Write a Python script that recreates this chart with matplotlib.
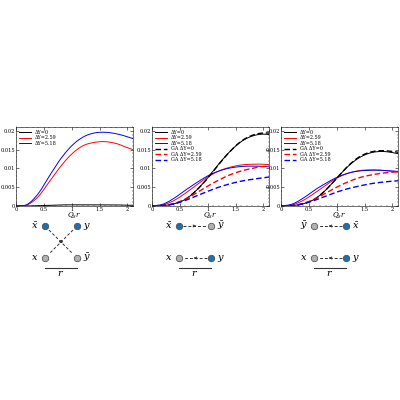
import matplotlib
matplotlib.use("Agg")
import matplotlib.pyplot as plt
import numpy as np

q = [0, 0.2, 0.4, 0.6, 0.8, 1.0, 1.2, 1.4, 1.6, 1.8, 2.0, 2.1]

# panel 1
p1_black = [0, 0, 0.0001, 0.0002, 0.0003, 0.0003, 0.0003, 0.0003, 0.0003, 0.0003, 0.0002, 0.0002]
p1_red = [0, 0.0003, 0.0025, 0.0065, 0.0105, 0.0138, 0.016, 0.0169, 0.0171, 0.0166, 0.0155, 0.015]
p1_blue = [0, 0.0004, 0.0033, 0.008, 0.0125, 0.016, 0.0183, 0.0194, 0.0196, 0.0192, 0.0184, 0.0179]

# panel 2
p2_black = [0, 0.0001, 0.0006, 0.0018, 0.0042, 0.0075, 0.0112, 0.0145, 0.0171, 0.0186, 0.0191, 0.019]
p2_red = [0, 0.0003, 0.0015, 0.0034, 0.0056, 0.0077, 0.0093, 0.0103, 0.0109, 0.0111, 0.0111, 0.011]
p2_blue = [0, 0.0005, 0.0021, 0.0042, 0.0062, 0.008, 0.0093, 0.0101, 0.0105, 0.0106, 0.0105, 0.0104]
p2_ga_black = [0, 0.0001, 0.0006, 0.0018, 0.0042, 0.0074, 0.0111, 0.0145, 0.0172, 0.0188, 0.0194, 0.0194]
p2_ga_red = [0, 0.0001, 0.0007, 0.0018, 0.0035, 0.0053, 0.0069, 0.0083, 0.0093, 0.0100, 0.0105, 0.0106]
p2_ga_blue = [0, 0.0001, 0.0006, 0.0015, 0.0027, 0.0039, 0.0050, 0.0059, 0.0066, 0.0071, 0.0075, 0.0077]

# panel 3
p3_black = [0, 0.0001, 0.0006, 0.0018, 0.0042, 0.0074, 0.0105, 0.0128, 0.0141, 0.0145, 0.0142, 0.0139]
p3_red = [0, 0.0003, 0.0015, 0.0034, 0.0055, 0.0074, 0.0087, 0.0094, 0.0096, 0.0095, 0.0092, 0.0090]
p3_blue = [0, 0.0005, 0.0021, 0.0042, 0.006, 0.0076, 0.0087, 0.0093, 0.0095, 0.0095, 0.0093, 0.0092]
p3_ga_black = [0, 0.0001, 0.0006, 0.0018, 0.0042, 0.0074, 0.0106, 0.013, 0.0143, 0.0147, 0.0145, 0.0143]
p3_ga_red = [0, 0.0001, 0.0007, 0.0018, 0.0034, 0.005, 0.0064, 0.0075, 0.0082, 0.0087, 0.009, 0.0091]
p3_ga_blue = [0, 0.0001, 0.0006, 0.0015, 0.0026, 0.0037, 0.0046, 0.0053, 0.0059, 0.0063, 0.0066, 0.0067]

labels = ["ΔY=0", "ΔY=2.59", "ΔY=5.18"]
ga_labels = ["GA ΔY=0", "GA ΔY=2.59", "GA ΔY=5.18"]
colors = ["black", "red", "blue"]

plt.rcParams["font.family"] = "DejaVu Serif"
plt.rcParams["mathtext.fontset"] = "dejavuserif"


def smooth(xs, ys, n=20):
    # cubic hermite through the read points (catmull-rom tangents)
    xs = np.asarray(xs, float)
    ys = np.asarray(ys, float)
    m = np.gradient(ys, xs)
    out_x, out_y = [], []
    for i in range(len(xs) - 1):
        h = xs[i + 1] - xs[i]
        t = np.linspace(0, 1, n, endpoint=False)
        h00 = 2 * t**3 - 3 * t**2 + 1
        h10 = t**3 - 2 * t**2 + t
        h01 = -2 * t**3 + 3 * t**2
        h11 = t**3 - t**2
        out_x.append(xs[i] + t * h)
        out_y.append(h00 * ys[i] + h10 * h * m[i] + h01 * ys[i + 1] + h11 * h * m[i + 1])
    out_x.append([xs[-1]])
    out_y.append([ys[-1]])
    return np.concatenate(out_x), np.concatenate(out_y)


fig = plt.figure(figsize=(4, 4), dpi=100)


def panel(left, solid, dashed):
    ax = fig.add_axes([left / 400, 1 - 206 / 400, 117 / 400, 79 / 400])
    for y, c, l in zip(solid, colors, labels):
        ax.plot(*smooth(q, y), color=c, lw=0.7, label=l)
    for y, c, l in zip(dashed, colors, ga_labels):
        ax.plot(*smooth(q, y), color=c, lw=1.0, ls=(0, (4, 2)), label=l)
    ax.set_xlim(0, 2.1)
    ax.set_ylim(0, 0.021)
    ax.set_xticks([0, 0.5, 1, 1.5, 2])
    ax.set_xticklabels(["0", "0.5", "1", "1.5", "2"])
    ax.set_yticks([0, 0.005, 0.01, 0.015, 0.02])
    ax.set_yticklabels(["0", "0.005", "0.01", "0.015", "0.02"])
    ax.minorticks_on()
    ax.tick_params(labelsize=3.6, length=2, width=0.4, direction="in", pad=0.8, top=True, right=True)
    ax.tick_params(which="minor", length=1, width=0.3, direction="in", top=True, right=True)
    for s in ax.spines.values():
        s.set_linewidth(0.4)
    ax.set_xlabel("$Q_s r$", fontsize=5, labelpad=-1)
    ax.legend(loc="upper left", fontsize=3.5, frameon=False, handlelength=2.5,
              labelspacing=0.1, borderaxespad=0.2)
    return ax


panel(16, [p1_black, p1_red, p1_blue], [])
panel(152, [p2_black, p2_red, p2_blue], [p2_ga_black, p2_ga_red, p2_ga_blue])
panel(281, [p3_black, p3_red, p3_blue], [p3_ga_black, p3_ga_red, p3_ga_blue])

# diagrams below
dax = fig.add_axes([0, 0, 1, 1])
dax.set_xlim(0, 400)
dax.set_ylim(400, 0)
dax.axis("off")
blue = "#1f6fae"
grey = "#b0b0b0"


def dot(x, y, c):
    dax.scatter([x], [y], s=22, color=c, edgecolors="#444444", linewidths=0.5, zorder=3)


def dash(x0, y0, x1, y1):
    dax.plot([x0, x1], [y0, y1], color="#333333", lw=0.7, ls=(0, (3, 2)))
    mx, my = (x0 + x1) / 2, (y0 + y1) / 2
    dax.annotate("", xy=(mx + (x1 - x0) * 0.05, my + (y1 - y0) * 0.05), xytext=(mx, my),
                 arrowprops=dict(arrowstyle="-|>", color="#333333", lw=0.5, mutation_scale=4))


def txt(x, y, s):
    dax.text(x, y, s, fontsize=7, ha="center", va="center")


# panel 1 diagram
dot(45, 226, blue); dot(77, 226, blue); dot(45, 258, grey); dot(77, 258, grey)
dash(49, 230, 73, 254); dash(73, 230, 49, 254)
txt(35, 226, r"$\bar{x}$"); txt(87, 226, r"$y$"); txt(35, 258, r"$x$"); txt(87, 258, r"$\bar{y}$")
dax.plot([45, 77], [268, 268], color="#333333", lw=0.8); txt(61, 273, r"$r$")

# panel 2 diagram
dot(179, 226, blue); dot(211, 226, grey); dot(179, 258, grey); dot(211, 258, blue)
dash(183, 226, 207, 226); dash(207, 258, 183, 258)
txt(169, 226, r"$\bar{x}$"); txt(221, 226, r"$\bar{y}$"); txt(169, 258, r"$x$"); txt(221, 258, r"$y$")
dax.plot([179, 211], [268, 268], color="#333333", lw=0.8); txt(195, 273, r"$r$")

# panel 3 diagram
dot(314, 226, grey); dot(346, 226, blue); dot(314, 258, grey); dot(346, 258, blue)
dash(342, 226, 318, 226); dash(342, 258, 318, 258)
txt(304, 226, r"$\bar{y}$"); txt(356, 226, r"$\bar{x}$"); txt(304, 258, r"$x$"); txt(356, 258, r"$y$")
dax.plot([314, 346], [268, 268], color="#333333", lw=0.8); txt(330, 273, r"$r$")

fig.savefig("out.png")
plt.close(fig)
